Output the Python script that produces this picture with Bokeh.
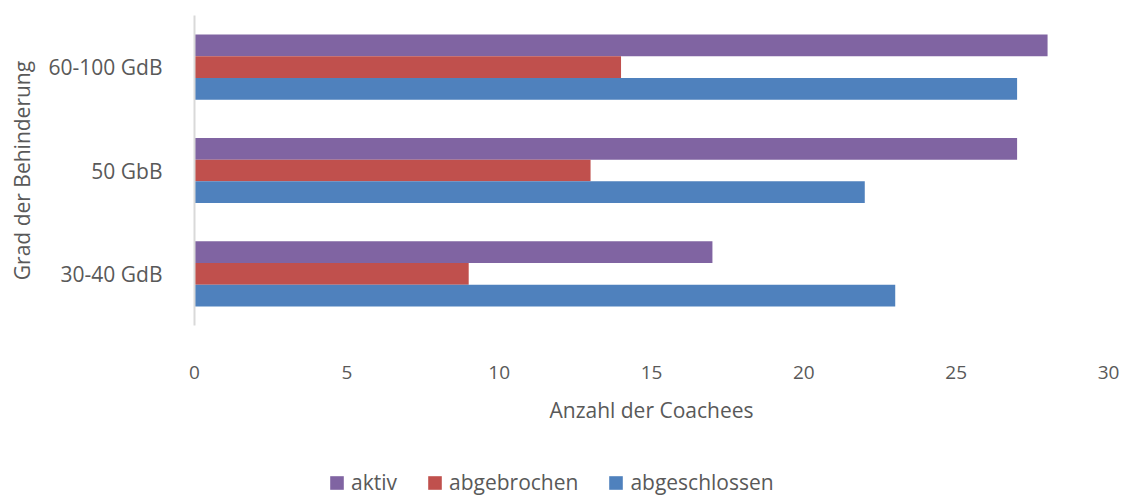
from bokeh.plotting import figure
from bokeh.layouts import column
from bokeh.models import ColumnDataSource, FactorRange, Range1d, FixedTicker, Legend, LegendItem
from bokeh.transform import dodge
from bokeh.embed import file_html
from bokeh.resources import INLINE

categories = ["30-40 GdB", "50 GbB", "60-100 GdB"]
aktiv = [17, 27, 28]
abgebrochen = [9, 13, 14]
abgeschlossen = [23, 22, 27]
series_names = ["aktiv", "abgebrochen", "abgeschlossen"]
x_ticks = [0, 5, 10, 15, 20, 25, 30]

colors = ["#8064A2", "#C0504D", "#4F81BD"]
FONT = "Open Sans"
TXT = "#595959"

src = ColumnDataSource(dict(cat=categories, aktiv=aktiv, abgebrochen=abgebrochen, abgeschlossen=abgeschlossen))

p = figure(width=1128, height=440, output_backend="svg", toolbar_location=None,
           y_range=FactorRange(*categories), x_range=Range1d(0, 30),
           min_border_left=194, min_border_right=20, min_border_top=15, min_border_bottom=115)
p.outline_line_color = None
p.grid.grid_line_color = None

bw = 0.21
offsets = [bw, 0.0, -bw]
for name, col, off in zip(series_names, colors, offsets):
    p.hbar(y=dodge("cat", off, range=p.y_range), right=name, left=0, height=bw,
           source=src, fill_color=col, line_color=None)

xa = p.xaxis[0]
xa.ticker = FixedTicker(ticks=x_ticks)
xa.axis_line_color = None
xa.major_tick_line_color = None
xa.minor_tick_line_color = None
xa.major_label_standoff = 34
xa.major_label_text_font = FONT
xa.major_label_text_font_size = "19px"
xa.major_label_text_color = TXT
xa.axis_label = "Anzahl der Coachees"
xa.axis_label_text_font = FONT
xa.axis_label_text_font_size = "21px"
xa.axis_label_text_font_style = "normal"
xa.axis_label_text_color = TXT
xa.axis_label_standoff = 14

ya = p.yaxis[0]
ya.axis_line_color = "#D9D9D9"
ya.axis_line_width = 2
ya.major_tick_line_color = None
ya.minor_tick_line_color = None
ya.major_label_standoff = 26
ya.major_label_text_font = FONT
ya.major_label_text_font_size = "21px"
ya.major_label_text_color = TXT
ya.axis_label = "Grad der Behinderung"
ya.axis_label_text_font = FONT
ya.axis_label_text_font_size = "21px"
ya.axis_label_text_font_style = "normal"
ya.axis_label_text_color = TXT
ya.axis_label_standoff = 10

# Legend strip below the axis title: the series renderers here have zero height
# and sit outside the view range, so only the legend entries are visible.
lf = figure(width=1128, height=56, output_backend="svg", toolbar_location=None,
            y_range=FactorRange(*categories), x_range=Range1d(1000, 1001),
            x_axis_location=None, y_axis_location=None,
            min_border_left=194, min_border_right=20, min_border_top=0, min_border_bottom=0)
lf.outline_line_color = None
lf.grid.grid_line_color = None
leg_renderers = []
for name, col, off in zip(series_names, colors, offsets):
    r = lf.hbar(y=dodge("cat", off, range=lf.y_range), right=name, left=0, height=0,
                source=src, fill_color=col, line_color=None)
    leg_renderers.append(r)

legend = Legend(items=[LegendItem(label=n, renderers=[r]) for n, r in zip(series_names, leg_renderers)],
                orientation="horizontal", location=(134, 0),
                label_text_font=FONT, label_text_font_size="21px", label_text_color=TXT,
                glyph_width=17, glyph_height=17, label_standoff=6, spacing=29,
                border_line_color=None, background_fill_alpha=0, padding=0, margin=0)
lf.add_layout(legend, "center")

layout = column(p, lf, spacing=0)
open("out.html", "w").write(file_html(layout, INLINE))
